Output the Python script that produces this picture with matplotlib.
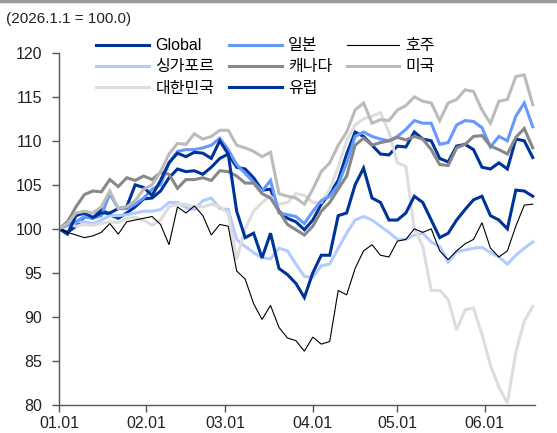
import pandas as pd
import matplotlib
matplotlib.use("Agg")
import matplotlib.pyplot as plt
import matplotlib.dates as mdates

plt.rcParams['font.family'] = ['Liberation Sans', 'Noto Sans CJK KR', 'DejaVu Sans']

# every 3rd day from 2026-01-01
dates = pd.date_range("2026-01-01", periods=57, freq="3D")

global_idx = [100.0, 99.6, 100.3, 101.4, 101.2, 102.2, 101.6, 101.2, 101.8, 102.5,
              103.4, 103.5, 104.3, 105.8, 106.8, 106.5, 106.6, 106.2, 107.0, 108.0,
              108.5, 107.0, 106.8, 105.8, 104.4, 104.5, 102.0, 101.2, 100.8, 99.9,
              101.0, 102.8, 104.0, 105.5, 108.5, 111.0, 110.5, 109.5, 108.5, 108.4,
              109.4, 109.3, 111.0, 110.2, 110.0, 108.0, 107.6, 109.4, 109.6, 109.0,
              107.0, 106.8, 107.5, 106.8, 110.2, 110.0, 108.1]
singapore = [100.0, 100.6, 100.8, 100.8, 100.6, 101.0, 101.5, 101.5, 101.6, 101.8,
             102.0, 102.0, 102.2, 103.0, 103.0, 102.4, 102.2, 103.2, 103.5, 102.3,
             102.2, 98.8, 98.0, 97.3, 96.7, 96.6, 97.8, 97.5, 96.0, 94.6,
             94.5, 95.8, 96.0, 97.8, 99.5, 101.0, 101.4, 101.0, 100.3, 99.6,
             98.8, 98.8, 99.3, 99.5, 98.5, 98.0, 96.2, 97.4, 97.6, 97.8,
             97.9, 97.3, 96.8, 96.0, 97.0, 97.8, 98.5]
korea = [100.0, 100.5, 100.3, 100.5, 100.4, 100.6, 100.8, 100.7, 101.2, 101.3,
         101.0, 100.4, 101.0, 102.5, 102.8, 102.8, 102.5, 102.5, 102.8, 102.5,
         101.8, 96.5, 100.0, 102.0, 103.0, 103.7, 102.8, 103.0, 104.0, 103.8,
         103.0, 103.0, 104.5, 107.0, 110.0, 111.8, 112.5, 112.8, 113.2, 111.0,
         107.5, 107.1, 100.0, 98.0, 93.0, 93.0, 92.0, 88.5, 90.8, 91.0,
         88.0, 84.5, 82.0, 80.2, 86.0, 89.5, 91.2]
japan = [100.0, 100.4, 100.8, 101.4, 101.2, 101.5, 104.0, 102.3, 102.3, 102.8,
         103.5, 104.5, 105.0, 107.5, 108.8, 109.0, 109.0, 109.2, 109.5, 110.3,
         109.0, 107.3, 106.3, 105.3, 104.3, 105.5, 101.8, 101.6, 101.4, 100.6,
         102.0, 103.2, 103.7, 105.0, 107.5, 110.5, 111.0, 110.5, 110.2, 110.0,
         110.5, 111.3, 112.3, 112.0, 112.0, 109.6, 109.8, 111.8, 112.3, 112.2,
         111.5, 109.3, 110.5, 110.0, 112.8, 114.3, 111.6]
canada = [100.0, 100.8, 102.5, 103.9, 104.3, 104.2, 105.6, 104.8, 105.8, 105.5,
          106.0, 105.6, 106.4, 106.2, 104.6, 105.6, 105.6, 105.8, 105.5, 106.6,
          106.5, 106.0, 105.2, 105.2, 104.0, 103.5, 102.0, 100.5, 99.9, 99.3,
          100.3, 102.0, 103.0, 104.5, 106.0, 109.5, 110.3, 109.5, 109.8, 110.0,
          110.4, 110.1, 110.5, 110.2, 109.0, 107.3, 107.2, 109.2, 109.6, 110.5,
          110.6, 109.4, 109.0, 108.5, 110.4, 111.4, 109.2]
europe = [100.0, 99.4, 101.5, 101.8, 101.3, 101.8, 101.8, 102.3, 102.5, 105.0,
          104.7, 103.8, 105.5, 107.5, 108.6, 108.2, 108.7, 108.6, 108.0, 110.0,
          108.5, 102.0, 99.0, 99.5, 96.7, 99.5, 95.5, 94.8, 93.8, 92.2,
          95.0, 97.0, 97.0, 101.5, 101.8, 105.0, 106.9, 103.5, 103.0, 101.0,
          101.0, 101.8, 103.7, 103.0, 101.0, 99.0, 99.5, 101.0, 102.2, 103.3,
          103.7, 101.5, 101.0, 100.0, 104.4, 104.3, 103.7]
australia = [100.0, 99.6, 99.3, 99.0, 99.2, 99.6, 100.6, 99.4, 100.8, 101.0,
             101.2, 101.4, 100.5, 98.2, 102.5, 101.8, 102.6, 101.5, 99.3, 100.5,
             100.3, 95.2, 94.3, 91.5, 89.7, 91.3, 88.8, 87.6, 87.3, 86.1,
             87.7, 86.9, 87.2, 93.0, 92.5, 95.5, 97.5, 98.2, 97.0, 96.8,
             98.6, 98.8, 100.0, 99.6, 100.0, 97.5, 96.5, 97.5, 98.3, 98.8,
             100.7, 97.8, 96.8, 97.5, 100.3, 102.7, 102.8]
usa = [100.0, 100.6, 101.8, 102.0, 101.8, 102.5, 104.3, 102.3, 102.5, 103.2,
       104.5, 105.0, 106.5, 108.5, 109.7, 109.6, 110.8, 110.2, 110.5, 111.2,
       111.2, 109.5, 109.2, 108.8, 108.2, 108.7, 104.0, 103.7, 103.5, 102.8,
       104.5, 106.5, 107.5, 109.5, 111.0, 113.5, 114.3, 112.0, 112.4, 112.3,
       113.5, 114.0, 115.0, 114.5, 114.3, 112.3, 114.3, 114.7, 115.8, 115.6,
       113.5, 112.0, 114.5, 114.7, 117.3, 117.5, 114.1]

labels = ["Global", "싱가포르", "대한민국", "일본", "캐나다", "유럽", "호주", "미국"]
series = [global_idx, singapore, korea, japan, canada, europe, australia, usa]
colors = ["#00339a", "#b3ccff", "#dddddd", "#6699ff", "#888888", "#00339a", "#000000", "#bbbbbb"]
widths = [2.2, 2.2, 2.2, 2.2, 2.2, 2.2, 0.8, 2.2]


def draw_chart():
    fig = plt.figure(figsize=(5.57, 4.33), dpi=100)
    ax = fig.add_axes([0.106, 0.065, 0.854, 0.813])

    for name, vals, c, w in zip(labels, series, colors, widths):
        ax.plot(dates, vals, color=c, lw=w, label=name, solid_joinstyle="miter")

    ax.set_ylim(80, 120)
    ax.set_yticks(range(80, 121, 5))
    start = pd.Timestamp("2026-01-01")
    ax.set_xlim(start, start + pd.Timedelta(days=168.7))
    ax.set_xticks(pd.date_range("2026-01-01", "2026-06-01", freq="MS"))
    ax.xaxis.set_major_formatter(mdates.DateFormatter("%m.%d"))

    for s in ["top", "right"]:
        ax.spines[s].set_visible(False)
    for s in ["left", "bottom"]:
        ax.spines[s].set_color("#555555")
        ax.spines[s].set_linewidth(1.0)
    ax.tick_params(direction="out", length=5, width=1, color="#555555",
                   labelsize=11.5, labelcolor="#222222")
    ax.tick_params(axis="y", pad=7)
    ax.tick_params(axis="x", pad=3)

    ax.legend(ncol=3, loc="upper left", bbox_to_anchor=(0.065, 1.06), frameon=False,
              fontsize=11.5, handlelength=3.3, handletextpad=0.4,
              columnspacing=0.9, labelspacing=0.4, borderaxespad=0)

    fig.text(0.01, 0.955, "(2026.1.1 = 100.0)", fontsize=11, color="#222222",
             va="center", ha="left")
    fig.add_artist(plt.Line2D([0, 1], [0.997, 0.997], color="#999999", lw=2.5))

    fig.savefig("out.png", dpi=100)


if __name__ == "__main__":
    draw_chart()
